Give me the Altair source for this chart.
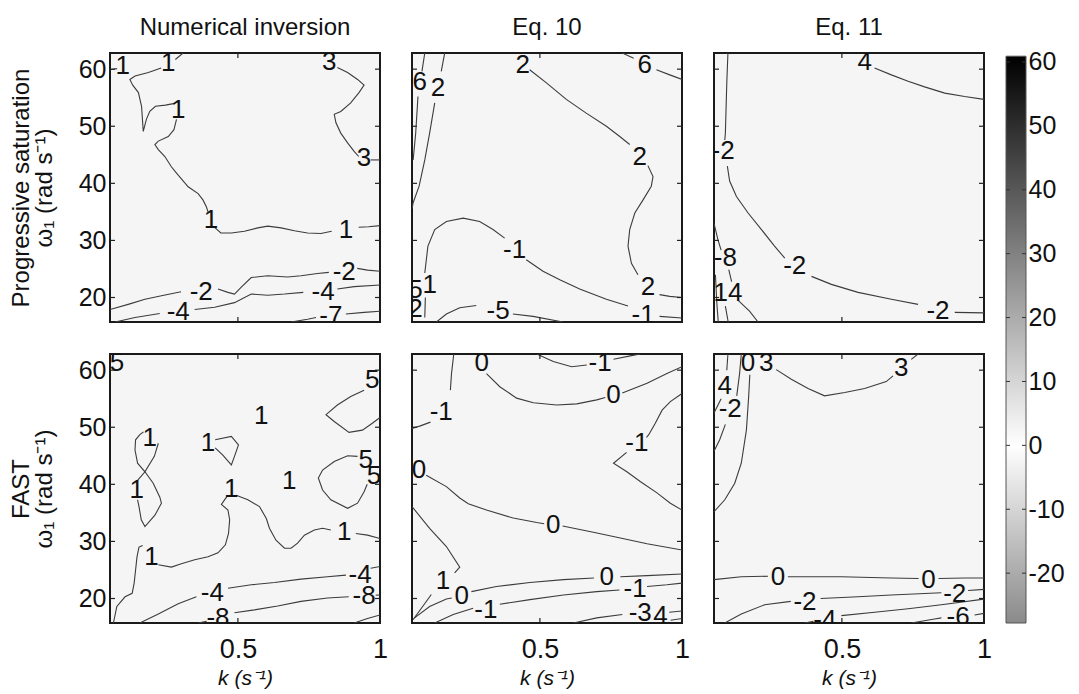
import altair as alt
import pandas as pd

FONT = "Liberation Sans"

# ---------------- axes / scales ----------------
K_DOMAIN = [0.05, 1.0]
W_DOMAIN = [15.708, 62.832]
K_TICKS = [0.5, 1.0]
W_TICKS = [20, 30, 40, 50, 60]
CBAR_TICKS = [-20, -10, 0, 10, 20, 30, 40, 50, 60]
CBAR_DOMAIN = [-27.8, 61.4]
CBAR_BAR = [-27.8, 60.9]

COL_TITLES = ["Numerical inversion", "Eq. 10", "Eq. 11"]
ROW_TITLES = [["Progressive saturation", "ω₁ (rad s⁻¹)"], ["FAST", "ω₁ (rad s⁻¹)"]]
X_TITLE = "k (s⁻¹)"

# ---------------- contour lines (k, omega) and labels ----------------
# Progressive saturation / Numerical inversion
P1_LINES = [
    [(0.307, 62.83), (0.28, 61.7)],
    [(0.23, 60.2), (0.185, 59.4), (0.138, 58.8), (0.12, 58.2), (0.13, 57.2), (0.15, 55.9), (0.161, 53.5),
     (0.167, 49.1), (0.178, 51.2), (0.19, 52.6), (0.21, 53.5), (0.245, 53.7), (0.278, 54.0)],
    [(0.284, 51.2), (0.275, 49.4), (0.255, 48.2), (0.22, 47.4), (0.208, 46.8), (0.22, 45.9), (0.243, 44.7),
     (0.266, 42.9), (0.284, 41.8), (0.325, 39.4), (0.36, 38.2), (0.377, 37.1), (0.389, 35.9), (0.395, 35.0)],
    [(0.418, 32.3), (0.44, 31.3), (0.477, 31.3), (0.523, 31.6), (0.57, 32.2), (0.605, 32.5), (0.652, 32.2),
     (0.699, 31.7), (0.745, 31.3), (0.792, 31.2), (0.83, 31.6)],
    [(0.925, 32.3), (0.96, 32.4), (1.0, 32.6)],
    [(0.05, 59.9), (0.075, 60.1)],
    [(0.85, 60.3), (0.886, 59.4), (0.921, 58.2), (0.944, 57.2), (0.926, 55.9), (0.897, 54.1), (0.862, 52.6),
     (0.839, 52.1), (0.845, 50.6), (0.862, 48.8), (0.886, 47.1), (0.909, 45.6), (0.925, 44.7)],
    [(0.967, 44.1), (1.0, 44.1)],
    [(0.05, 17.9), (0.114, 18.8), (0.173, 19.7), (0.231, 20.3), (0.30, 21.0)],
    [(0.43, 21.5), (0.465, 20.9), (0.488, 20.6), (0.512, 21.8), (0.547, 23.5), (0.605, 23.8), (0.675, 23.6),
     (0.722, 23.8), (0.78, 24.2), (0.82, 24.4)],
    [(0.92, 25.1), (0.956, 24.8), (1.0, 24.6)],
    [(0.068, 15.71), (0.138, 16.5), (0.225, 17.2)],
    [(0.348, 17.9), (0.418, 18.3), (0.488, 19.1), (0.547, 20.6), (0.605, 20.4), (0.664, 20.6), (0.73, 20.9)],
    [(0.85, 21.5), (0.909, 21.9), (1.0, 22.2)],
    [(0.687, 15.71), (0.745, 16.2), (0.775, 16.5)],
    [(0.88, 17.1), (0.944, 17.4), (1.0, 17.6)],
]
P1_LABELS = [(0.255, 61.1, "1"), (0.29, 52.9, "1"), (0.405, 33.5, "1"), (0.88, 31.8, "1"), (0.095, 60.6, "1"),
             (0.821, 61.3, "3"), (0.944, 44.4, "3"), (0.371, 20.9, "-2"), (0.874, 24.4, "-2"),
             (0.29, 17.4, "-4"), (0.80, 20.9, "-4"), (0.827, 16.7, "-7")]

# Progressive saturation / Eq. 10
P2_LINES = [
    [(0.464, 59.9), (0.523, 57.6), (0.593, 54.7), (0.663, 52.3), (0.734, 50.0), (0.781, 48.2), (0.816, 46.8)],
    [(0.88, 43.1), (0.898, 41.2), (0.892, 39.5), (0.863, 37.1), (0.834, 34.8), (0.816, 31.9), (0.81, 29.0),
     (0.822, 26.0), (0.845, 24.0)],
    [(0.921, 20.5), (0.957, 20.2), (1.0, 20.0)],
    [(0.79, 62.83), (0.83, 61.9)],
    [(0.91, 59.9), (0.957, 59.0), (1.0, 58.2)],
    [(0.095, 24.3), (0.106, 29.0), (0.13, 31.9), (0.171, 33.3), (0.23, 33.9), (0.288, 33.3), (0.335, 31.9),
     (0.376, 30.4)],
    [(0.452, 26.6), (0.511, 24.6), (0.57, 23.1), (0.64, 21.5), (0.734, 19.7), (0.81, 18.5)],
    [(0.921, 16.7), (1.0, 16.4)],
    [(0.097, 20.0), (0.095, 16.5)],
    [(0.136, 15.71), (0.171, 17.1), (0.218, 18.2), (0.276, 18.6)],
    [(0.405, 17.1), (0.476, 16.7), (0.581, 15.71)],
    [(0.165, 62.83), (0.153, 59.6)],
    [(0.13, 54.1), (0.112, 48.8), (0.095, 44.1), (0.075, 39.5), (0.054, 36.6), (0.05, 35.5)],
    [(0.095, 62.83), (0.085, 59.6)],
    [(0.071, 55.2), (0.063, 48.8), (0.054, 44.1)],
]
P2_LABELS = [(0.44, 60.8, "2"), (0.851, 44.7, "2"), (0.88, 21.9, "2"), (0.869, 60.8, "6"),
             (0.411, 28.4, "-1"), (0.863, 17.0, "-1"), (0.112, 22.2, "1"), (0.062, 21.4, "5"),
             (0.062, 17.9, "2"), (0.353, 17.6, "-5"), (0.141, 56.7, "2"), (0.077, 57.8, "6")]

# Progressive saturation / Eq. 11
P3_LINES = [
    [(0.615, 60.2), (0.674, 59.0), (0.733, 57.9), (0.791, 56.9), (0.862, 55.8), (0.932, 55.2), (1.0, 54.7)],
    [(0.099, 62.83), (0.095, 57.6), (0.09, 48.8), (0.088, 47.6)],
    [(0.097, 43.0), (0.105, 40.4), (0.129, 37.7), (0.17, 34.8), (0.217, 31.9), (0.263, 29.0), (0.299, 26.9)],
    [(0.393, 23.7), (0.463, 22.3), (0.557, 20.9), (0.674, 19.7), (0.768, 18.8)],
    [(0.897, 17.4), (1.0, 17.3)],
    [(0.05, 33.0), (0.064, 30.1), (0.075, 28.3)],
    [(0.102, 24.9), (0.112, 22.8)],
    [(0.135, 19.5), (0.175, 17.6), (0.205, 15.71)],
    [(0.055, 24.0), (0.06, 19.0), (0.065, 15.71)],
    [(0.09, 18.5), (0.1, 15.71)],
]
P3_LABELS = [(0.58, 61.2, "4"), (0.082, 45.6, "-2"), (0.334, 25.5, "-2"), (0.838, 17.6, "-2"),
             (0.09, 26.9, "-8"), (0.099, 20.8, "14")]

# FAST / Numerical inversion
P4_LINES = [
    [(0.062, 15.71), (0.074, 18.6), (0.103, 20.3), (0.128, 20.9), (0.135, 22.7), (0.14, 25.0), (0.145, 27.3),
     (0.152, 29.0), (0.165, 29.3)],
    [(0.22, 25.9), (0.266, 25.5), (0.301, 26.1), (0.348, 26.8), (0.395, 27.3), (0.43, 28.0), (0.456, 29.4),
     (0.467, 31.4), (0.471, 33.8), (0.465, 35.5), (0.442, 36.5), (0.456, 37.5), (0.466, 38.1)],
    [(0.494, 38.1), (0.535, 37.3), (0.576, 36.1), (0.6, 34.0), (0.611, 32.3), (0.634, 30.2), (0.664, 28.8),
     (0.687, 28.8), (0.71, 29.7), (0.734, 31.1), (0.769, 32.0), (0.798, 32.3), (0.827, 32.0)],
    [(0.915, 31.4), (0.956, 31.1), (1.0, 30.5)],
    [(0.22, 47.2), (0.206, 44.9), (0.173, 42.2), (0.202, 40.2), (0.225, 37.8), (0.231, 36.7), (0.208, 34.6),
     (0.173, 32.6), (0.16, 33.8), (0.152, 36.1), (0.147, 37.3)],
    [(0.144, 40.5), (0.173, 42.2), (0.147, 43.7), (0.138, 46.0), (0.14, 47.8), (0.155, 48.7), (0.168, 49.2)],
    [(0.42, 47.8), (0.477, 48.4), (0.502, 46.9), (0.488, 44.9), (0.477, 43.4), (0.447, 45.1), (0.42, 46.4)],
    [(0.944, 56.5), (0.897, 55.4), (0.85, 53.9), (0.81, 52.2), (0.839, 51.0), (0.891, 49.1), (0.938, 49.5),
     (0.973, 50.7), (1.0, 51.7)],
    [(0.921, 44.9), (0.886, 45.0), (0.839, 44.0), (0.798, 42.5), (0.783, 41.1), (0.798, 39.0), (0.827, 37.3),
     (0.886, 35.8), (0.921, 36.7), (0.944, 38.7), (0.955, 40.0)],
    [(0.155, 15.71), (0.22, 17.3), (0.29, 19.1), (0.354, 20.3)],
    [(0.465, 21.8), (0.547, 22.4), (0.629, 22.8), (0.722, 23.4), (0.815, 23.8), (0.88, 24.1)],
    [(0.967, 25.3), (1.0, 25.6)],
    [(0.36, 15.71), (0.39, 16.0)],
    [(0.488, 17.5), (0.558, 18.0), (0.64, 18.7), (0.722, 19.5), (0.815, 20.1), (0.89, 20.3)],
    [(0.985, 20.6), (1.0, 20.6)],
    [(0.909, 15.71), (0.956, 16.5), (1.0, 17.1)],
]
P4_LABELS = [(0.196, 27.3, "1"), (0.477, 39.1, "1"), (0.874, 31.7, "1"), (0.19, 48.1, "1"),
             (0.144, 39.0, "1"), (0.395, 47.2, "1"), (0.582, 51.9, "1"), (0.681, 40.5, "1"),
             (0.973, 58.3, "5"), (0.95, 44.3, "5"), (0.979, 41.5, "5"), (0.075, 61.3, "5"),
             (0.41, 20.9, "-4"), (0.93, 24.2, "-4"), (0.43, 16.6, "-8"), (0.944, 20.4, "-8")]

# FAST / Eq. 10
P5_LINES = [
    [(0.489, 62.83), (0.547, 61.5), (0.612, 60.6), (0.665, 60.9)],
    [(0.759, 61.9), (0.818, 62.5), (0.853, 62.83)],
    [(0.312, 59.4), (0.359, 57.1), (0.418, 55.1), (0.477, 54.3), (0.559, 53.9), (0.63, 54.1), (0.7, 54.8),
     (0.73, 55.2)],
    [(0.79, 56.0), (0.877, 57.7), (0.947, 59.4), (1.0, 60.6)],
    [(0.197, 62.83), (0.189, 59.4), (0.185, 56.5)],
    [(0.115, 50.9), (0.077, 50.2), (0.05, 49.8)],
    [(0.1, 41.6), (0.171, 39.6), (0.218, 37.6), (0.248, 36.6), (0.312, 35.5), (0.406, 34.1), (0.489, 33.3),
     (0.515, 33.1)],
    [(0.58, 32.7), (0.688, 31.6), (0.783, 30.6), (0.877, 29.6), (1.0, 28.5)],
    [(1.0, 55.9), (0.959, 54.5), (0.93, 53.0), (0.906, 50.7), (0.883, 48.7), (0.875, 48.2)],
    [(0.805, 45.6), (0.759, 43.7), (0.806, 42.2), (0.853, 40.5), (0.912, 38.5), (0.959, 36.7), (1.0, 35.5)],
    [(0.05, 36.1), (0.112, 32.3), (0.171, 29.1), (0.218, 25.5), (0.2, 24.5)],
    [(0.118, 20.7), (0.083, 18.3), (0.054, 16.3)],
    [(0.059, 16.6), (0.112, 18.6), (0.171, 19.9), (0.19, 20.1)],
    [(0.259, 21.2), (0.347, 22.1), (0.465, 22.8), (0.583, 23.3), (0.69, 23.6)],
    [(0.783, 23.8), (0.877, 24.0), (1.0, 24.3)],
    [(0.13, 15.71), (0.195, 17.2), (0.265, 18.3)],
    [(0.359, 19.0), (0.465, 19.8), (0.583, 20.6), (0.7, 21.2), (0.78, 21.5)],
    [(0.877, 22.1), (0.947, 22.4), (1.0, 22.7)],
    [(0.618, 15.71), (0.7, 16.6), (0.79, 17.2)],
    [(0.955, 17.6), (1.0, 17.8)],
    [(0.96, 16.2), (1.0, 16.5)],
]
P5_LABELS = [(0.712, 61.2, "-1"), (0.295, 61.2, "0"), (0.759, 55.6, "0"), (0.153, 52.7, "-1"),
             (0.075, 42.5, "0"), (0.547, 32.9, "0"), (0.841, 47.2, "-1"), (0.159, 23.0, "1"),
             (0.225, 20.4, "0"), (0.735, 23.7, "0"), (0.31, 17.9, "-1"), (0.835, 21.7, "-1"),
             (0.853, 17.4, "-3"), (0.924, 16.9, "4")]

# FAST / Eq. 11
P6_LINES = [
    [(0.269, 60.1), (0.322, 58.4), (0.381, 56.8), (0.439, 55.5), (0.51, 56.1), (0.58, 56.8), (0.656, 58.0),
     (0.68, 59.0)],
    [(0.744, 61.9), (0.768, 62.83)],
    [(0.176, 59.2), (0.172, 55.4), (0.164, 49.5), (0.146, 43.7), (0.123, 40.2), (0.088, 37.3), (0.05, 35.2)],
    [(0.146, 62.83), (0.14, 59.4), (0.13, 55.5)],
    [(0.09, 50.5), (0.07, 47.8), (0.05, 45.8)],
    [(0.099, 62.83), (0.095, 60.0)],
    [(0.075, 55.0), (0.05, 52.5)],
    [(0.05, 23.3), (0.146, 23.8), (0.24, 23.9)],
    [(0.31, 23.8), (0.498, 23.8), (0.674, 23.6), (0.77, 23.5)],
    [(0.84, 23.5), (0.932, 23.6), (1.0, 23.6)],
    [(0.088, 15.71), (0.146, 17.3), (0.228, 18.9), (0.32, 19.5)],
    [(0.425, 20.0), (0.557, 20.3), (0.674, 20.6), (0.85, 21.0)],
    [(0.944, 21.4), (1.0, 21.6)],
    [(0.369, 15.71), (0.40, 16.0)],
    [(0.498, 17.0), (0.615, 17.6), (0.733, 18.2), (0.85, 18.9), (1.0, 19.9)],
    [(0.744, 15.71), (0.826, 16.4), (0.85, 16.6)],
    [(0.967, 17.1), (1.0, 17.4)],
]
P6_LABELS = [(0.17, 61.2, "0"), (0.234, 61.2, "3"), (0.709, 60.3, "3"), (0.107, 53.2, "-2"),
             (0.088, 57.3, "4"), (0.275, 23.7, "0"), (0.805, 23.3, "0"), (0.37, 19.4, "-2"),
             (0.897, 20.8, "-2"), (0.44, 16.2, "-4"), (0.909, 16.8, "-6")]

PANELS = [[(P1_LINES, P1_LABELS), (P2_LINES, P2_LABELS), (P3_LINES, P3_LABELS)],
          [(P4_LINES, P4_LABELS), (P5_LINES, P5_LABELS), (P6_LINES, P6_LABELS)]]

PW, PH = 270, 269
TITLE_SIZE = 24
TITLE_OFFSET = 12
HYPHEN_LABEL = "datum.value < 0 ? '-' + abs(datum.value) : '' + datum.value"


def x_enc(row):
    scale = alt.Scale(domain=K_DOMAIN, nice=False, zero=False)
    if row == 1:
        axis = alt.Axis(values=K_TICKS, format="~g", labelFontSize=27, labelPadding=13, labelFlush=False,
                        ticks=False, domain=False, grid=False, title=X_TITLE, titleFontSize=21,
                        titleFontStyle="italic", titleFontWeight="normal", titlePadding=5)
        return alt.X("k:Q", scale=scale, axis=axis)
    return alt.X("k:Q", scale=scale, axis=None)


def y_enc(row, col):
    scale = alt.Scale(domain=W_DOMAIN, nice=False, zero=False)
    if col == 0:
        axis = alt.Axis(values=W_TICKS, format="d", labelFontSize=25, labelPadding=4, labelFlush=False,
                        ticks=False, domain=False, grid=False, title=ROW_TITLES[row], titleFontSize=24,
                        titleFontWeight="normal", titlePadding=22, titleLineHeight=23)
        return alt.Y("w:Q", scale=scale, axis=axis)
    return alt.Y("w:Q", scale=scale, axis=None)


def panel(row, col):
    lines, labels = PANELS[row][col]
    recs = []
    for s, seg in enumerate(lines):
        for i, (k, w) in enumerate(seg):
            recs.append({"seg": s, "i": i, "k": k, "w": w})
    ldf = pd.DataFrame(recs)
    tdf = pd.DataFrame(labels, columns=["k", "w", "t"])
    kdf = pd.DataFrame({"k": K_TICKS})
    wdf = pd.DataFrame({"w": W_TICKS})

    line = alt.Chart(ldf).mark_line(color="#3c3c3c", strokeWidth=1.1, clip=True).encode(
        x=x_enc(row), y=y_enc(row, col), detail="seg:N", order="i:Q")
    text = alt.Chart(tdf).mark_text(font=FONT, fontSize=26, color="#111111", clip=True).encode(
        x=x_enc(row), y=y_enc(row, col), text="t:N")
    tick_top = alt.Chart(kdf).mark_rule(color="#222", strokeWidth=1.2).encode(
        x=x_enc(row), y=alt.value(0), y2=alt.value(5))
    tick_bot = alt.Chart(kdf).mark_rule(color="#222", strokeWidth=1.2).encode(
        x=x_enc(row), y=alt.value(PH - 5), y2=alt.value(PH))
    tick_l = alt.Chart(wdf).mark_rule(color="#222", strokeWidth=1.2).encode(
        y=y_enc(row, col), x=alt.value(0), x2=alt.value(5))
    tick_r = alt.Chart(wdf).mark_rule(color="#222", strokeWidth=1.2).encode(
        y=y_enc(row, col), x=alt.value(PW - 5), x2=alt.value(PW))
    ch = alt.layer(line, text, tick_top, tick_bot, tick_l, tick_r).properties(width=PW, height=PH)
    if row == 0:
        ch = ch.properties(title=alt.TitleParams(COL_TITLES[col], fontSize=TITLE_SIZE, font=FONT,
                                                 fontWeight="normal", color="#111", offset=TITLE_OFFSET))
    return ch


grid = alt.concat(*[panel(r, c) for r in range(2) for c in range(3)], columns=3, spacing=32, bounds="flush")

# ---------------- colour bar ----------------
cb_scale = alt.Scale(domain=CBAR_DOMAIN, nice=False, zero=False)
cb_df = pd.DataFrame({"lo": [CBAR_BAR[0]], "hi": [CBAR_BAR[1]]})
cb_ticks = pd.DataFrame({"v": CBAR_TICKS})
white_at = CBAR_BAR[1] / (CBAR_BAR[1] - CBAR_BAR[0])
grad = alt.LinearGradient(
    gradient="linear",
    stops=[alt.GradientStop(color="#000000", offset=0),
           alt.GradientStop(color="#ffffff", offset=white_at),
           alt.GradientStop(color="#8a8a8a", offset=1)],
    x1=0, x2=0, y1=0, y2=1)
cb_axis = alt.Axis(values=CBAR_TICKS, orient="right", labelExpr=HYPHEN_LABEL, labelFontSize=25,
                   labelPadding=2, ticks=False, domain=False, grid=False, title=None, labelFlush=False)
bar = alt.Chart(cb_df).mark_rect(fill=grad, stroke="#555555", strokeWidth=1).encode(
    y=alt.Y("hi:Q", scale=cb_scale, axis=cb_axis), y2="lo:Q", x=alt.value(0), x2=alt.value(20))
cb_l = alt.Chart(cb_ticks).mark_rule(color="#333", strokeWidth=1).encode(
    y=alt.Y("v:Q", scale=cb_scale, axis=cb_axis), x=alt.value(0), x2=alt.value(4))
cb_r = alt.Chart(cb_ticks).mark_rule(color="#333", strokeWidth=1).encode(
    y=alt.Y("v:Q", scale=cb_scale, axis=cb_axis), x=alt.value(16), x2=alt.value(20))
cbar = alt.layer(bar, cb_l, cb_r).properties(
    width=20, height=PH * 2 + 32,
    view=alt.ViewBackground(stroke="transparent", fill="transparent"),
    title=alt.TitleParams("0", fontSize=TITLE_SIZE, font=FONT, fontWeight="normal",
                          color="transparent", offset=TITLE_OFFSET))

chart = alt.hconcat(grid, cbar, spacing=11).properties(
    padding={"left": 8, "top": 12, "right": 0, "bottom": 0}
).configure_view(
    stroke="#1a1a1a", strokeWidth=2, fill="#f5f5f5"
).configure_axis(
    labelFont=FONT, titleFont=FONT, labelColor="#111", titleColor="#111"
)

chart.save("out.html", embed_options={"renderer": "svg", "actions": False})
